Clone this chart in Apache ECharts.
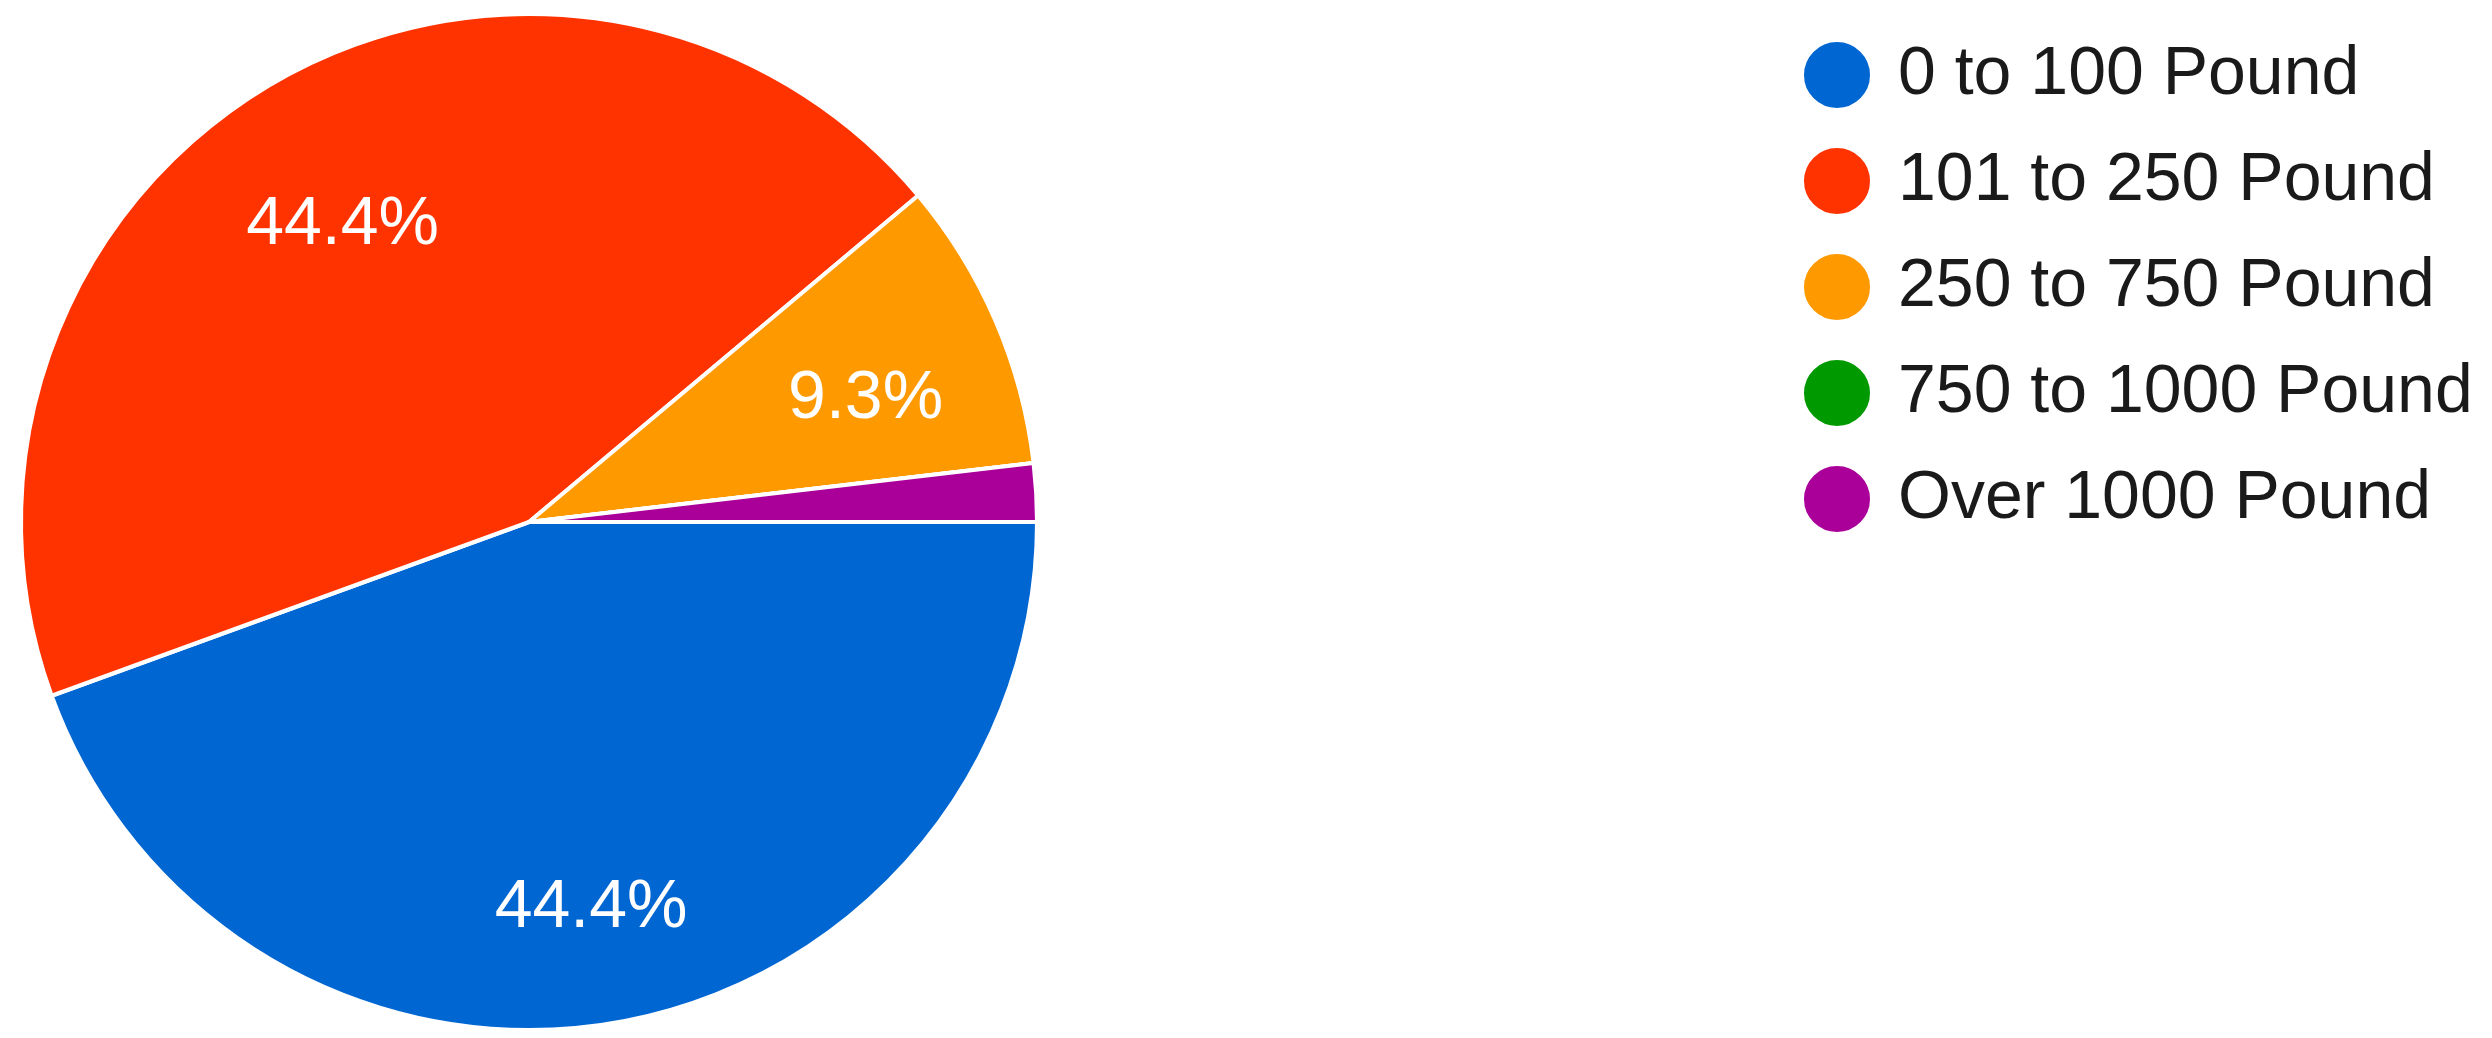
<!DOCTYPE html>
<html>
<head>
<meta charset="utf-8">
<script src="https://cdn.jsdelivr.net/npm/echarts@6/dist/echarts.min.js"></script>
<style>
  html, body { margin: 0; padding: 0; background: #fff; }
  #main { width: 2492px; height: 1038px; }
</style>
</head>
<body>
<div id="main"></div>
<script>
// responses per weight range
var categories = ['0 to 100 Pound', '101 to 250 Pound', '250 to 750 Pound', '750 to 1000 Pound', 'Over 1000 Pound'];
var counts = [24, 24, 5, 0, 1];
var colors = ['#0066d2', '#ff3300', '#ff9900', '#009900', '#aa0099'];

var total = counts.reduce(function (a, b) { return a + b; }, 0);

var pieData = categories.map(function (name, i) {
    return { name: name, value: counts[i], itemStyle: { color: colors[i] } };
});

var myChart = echarts.init(document.getElementById('main'));

var center = [529, 522];
var R = 508;

option = {
    animation: false,
    legend: {
        orient: 'vertical',
        left: 1797,
        top: 35,
        icon: 'circle',
        itemWidth: 68,
        itemHeight: 68,
        itemGap: 36,
        data: categories,
        textStyle: {
            fontFamily: 'Liberation Sans',
            fontSize: 68,
            lineHeight: 68,
            color: '#1a1a1a',
            padding: [0, 0, 0, 22]
        }
    },
    series: [
        {
            name: 'slices',
            type: 'pie',
            center: center,
            radius: [0, R],
            startAngle: 0,
            clockwise: true,
            label: { show: false },
            labelLine: { show: false },
            itemStyle: { borderColor: '#fff', borderWidth: 4 },
            emphasis: { disabled: true },
            data: pieData
        },
        {
            // transparent copy, only to put the % labels at ~0.72 of the radius
            name: 'labels',
            type: 'pie',
            center: center,
            radius: [R * 0.44, R],
            startAngle: 0,
            clockwise: true,
            silent: true,
            itemStyle: { color: 'rgba(0,0,0,0)', borderWidth: 0 },
            label: {
                show: true,
                position: 'inside',
                color: '#fff',
                fontFamily: 'Liberation Sans',
                fontSize: 68,
                offset: [-2, 23],
                formatter: function (p) {
                    var pct = p.value / total * 100;
                    return pct > 5 ? pct.toFixed(1) + '%' : '';
                }
            },
            labelLine: { show: false },
            emphasis: { disabled: true },
            data: categories.map(function (name, i) {
                return { name: name, value: counts[i] };
            })
        }
    ]
};
myChart.setOption(option);
</script>
</body>
</html>
